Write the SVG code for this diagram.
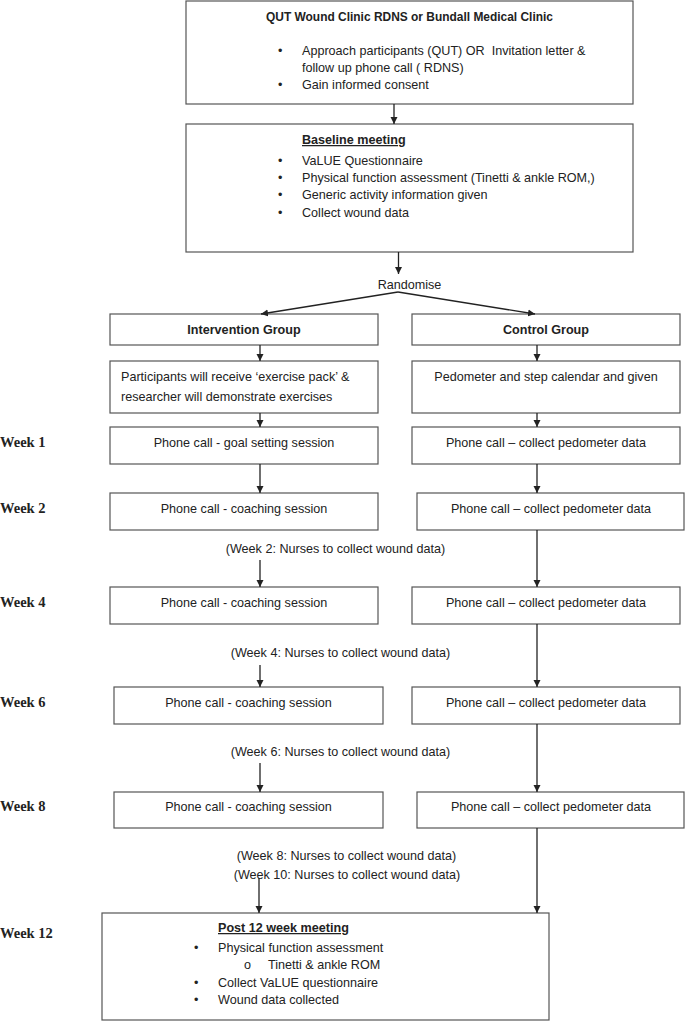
<svg xmlns="http://www.w3.org/2000/svg" width="685" height="1022" viewBox="0 0 685 1022">
<style>
.box{fill:#fff;stroke:#555;stroke-width:1.2}
.t{font-family:"Liberation Sans",Arial,sans-serif;font-size:12.6px;fill:#222}
.b{font-weight:bold}
.c{text-anchor:middle}
.wk{font-family:"Liberation Serif","Times New Roman",serif;font-size:14.5px;font-weight:bold;fill:#222}
.con{stroke:#222;stroke-width:1.3;fill:none;marker-end:url(#ah)}
</style>
<defs>
<marker id="ah" viewBox="0 0 10 10" refX="10" refY="5" markerWidth="7" markerHeight="8" markerUnits="userSpaceOnUse" orient="auto">
<path d="M0,0 L10,5 L0,10 z" fill="#222"/>
</marker>
</defs>
<rect width="685" height="1022" fill="#fff"/>

<g id="recruit">
<rect class="box" x="186" y="1" width="447" height="103"/>
<text class="t b c" x="409.5" y="21" textLength="287" lengthAdjust="spacingAndGlyphs">QUT Wound Clinic RDNS or Bundall Medical Clinic</text>
<text class="t" x="278" y="55">•</text>
<text class="t" x="302" y="55">Approach participants (QUT) OR &#160;Invitation letter &amp;</text>
<text class="t" x="302" y="72">follow up phone call ( RDNS)</text>
<text class="t" x="278" y="89">•</text>
<text class="t" x="302" y="89">Gain informed consent</text>
</g>

<g id="baseline">
<rect class="box" x="186" y="124" width="447" height="128"/>
<text class="t b" x="302" y="144" text-decoration="underline">Baseline meeting</text>
<text class="t" x="278" y="165">•</text>
<text class="t" x="302" y="165">VaLUE Questionnaire</text>
<text class="t" x="278" y="182">•</text>
<text class="t" x="302" y="182">Physical function assessment (Tinetti &amp; ankle ROM,)</text>
<text class="t" x="278" y="199">•</text>
<text class="t" x="302" y="199">Generic activity information given</text>
<text class="t" x="278" y="217">•</text>
<text class="t" x="302" y="217">Collect wound data</text>
</g>

<g id="randomise">
<text class="t c" x="409.5" y="289">Randomise</text>
</g>

<g id="intervention">
<rect class="box" x="110" y="314" width="268" height="31"/>
<text class="t b c" x="244" y="334">Intervention Group</text>
</g>
<g id="control">
<rect class="box" x="412" y="314" width="268" height="31"/>
<text class="t b c" x="546" y="334">Control Group</text>
</g>

<g id="exercise-pack">
<rect class="box" x="110" y="361" width="268" height="52"/>
<text class="t" x="121" y="381">Participants will receive ‘exercise pack’ &amp;</text>
<text class="t" x="121" y="401">researcher will demonstrate exercises</text>
</g>
<g id="pedometer">
<rect class="box" x="412" y="361" width="268" height="52"/>
<text class="t c" x="546" y="381">Pedometer and step calendar and given</text>
</g>

<g id="week1-label"><text class="wk" x="0" y="447">Week 1</text></g>
<g id="i-week1">
<rect class="box" x="110" y="427" width="268" height="37"/>
<text class="t c" x="244" y="447">Phone call - goal setting session</text>
</g>
<g id="c-week1">
<rect class="box" x="412" y="427" width="268" height="37"/>
<text class="t c" x="546" y="447">Phone call – collect pedometer data</text>
</g>

<g id="week2-label"><text class="wk" x="0" y="513">Week 2</text></g>
<g id="i-week2">
<rect class="box" x="110" y="493" width="268" height="37"/>
<text class="t c" x="244" y="513">Phone call - coaching session</text>
</g>
<g id="c-week2">
<rect class="box" x="417" y="493" width="267" height="37"/>
<text class="t c" x="551" y="513">Phone call – collect pedometer data</text>
</g>
<g id="note-week2"><text class="t c" x="335.5" y="553">(Week 2: Nurses to collect wound data)</text></g>

<g id="week4-label"><text class="wk" x="0" y="607">Week 4</text></g>
<g id="i-week4">
<rect class="box" x="110" y="587" width="268" height="37"/>
<text class="t c" x="244" y="607">Phone call - coaching session</text>
</g>
<g id="c-week4">
<rect class="box" x="412" y="587" width="268" height="37"/>
<text class="t c" x="546" y="607">Phone call – collect pedometer data</text>
</g>
<g id="note-week4"><text class="t c" x="340.5" y="657">(Week 4: Nurses to collect wound data)</text></g>

<g id="week6-label"><text class="wk" x="0" y="707">Week 6</text></g>
<g id="i-week6">
<rect class="box" x="114" y="687" width="269" height="37"/>
<text class="t c" x="248.5" y="707">Phone call - coaching session</text>
</g>
<g id="c-week6">
<rect class="box" x="412" y="687" width="268" height="37"/>
<text class="t c" x="546" y="707">Phone call – collect pedometer data</text>
</g>
<g id="note-week6"><text class="t c" x="340.5" y="756">(Week 6: Nurses to collect wound data)</text></g>

<g id="week8-label"><text class="wk" x="0" y="811">Week 8</text></g>
<g id="i-week8">
<rect class="box" x="114" y="792" width="269" height="36"/>
<text class="t c" x="248.5" y="811">Phone call - coaching session</text>
</g>
<g id="c-week8">
<rect class="box" x="417" y="792" width="267" height="36"/>
<text class="t c" x="551" y="811">Phone call – collect pedometer data</text>
</g>
<g id="note-week8"><text class="t c" x="346.5" y="860">(Week 8: Nurses to collect wound data)</text></g>
<g id="note-week10"><text class="t c" x="347" y="879">(Week 10: Nurses to collect wound data)</text></g>

<g id="week12-label"><text class="wk" x="0" y="938">Week 12</text></g>
<g id="post12">
<rect class="box" x="102" y="913" width="447" height="107"/>
<text class="t b" x="218" y="932" text-decoration="underline">Post 12 week meeting</text>
<text class="t" x="194" y="952">•</text>
<text class="t" x="218" y="952">Physical function assessment</text>
<text class="t" x="244" y="969">o</text>
<text class="t" x="268" y="969">Tinetti &amp; ankle ROM</text>
<text class="t" x="194" y="987">•</text>
<text class="t" x="218" y="987">Collect VaLUE questionnaire</text>
<text class="t" x="194" y="1004">•</text>
<text class="t" x="218" y="1004">Wound data collected</text>
</g>

<g id="connectors">
<line class="con" x1="394" y1="104" x2="394" y2="124"/>
<line class="con" x1="398.5" y1="252" x2="398.5" y2="274"/>
<polyline class="con" points="398,292 261,314"/>
<polyline class="con" points="398,292 535,314"/>
<line class="con" x1="260" y1="345" x2="260" y2="361"/>
<line class="con" x1="537" y1="345" x2="537" y2="361"/>
<line class="con" x1="260" y1="413" x2="260" y2="427"/>
<line class="con" x1="537" y1="413" x2="537" y2="427"/>
<line class="con" x1="260" y1="464" x2="260" y2="493"/>
<line class="con" x1="537" y1="464" x2="537" y2="493"/>
<line class="con" x1="260" y1="560" x2="260" y2="587"/>
<line class="con" x1="537" y1="530" x2="537" y2="587"/>
<line class="con" x1="260" y1="665" x2="260" y2="687"/>
<line class="con" x1="537" y1="624" x2="537" y2="687"/>
<line class="con" x1="260" y1="763" x2="260" y2="792"/>
<line class="con" x1="537" y1="724" x2="537" y2="792"/>
<line class="con" x1="259" y1="878" x2="259" y2="913"/>
<line class="con" x1="537" y1="828" x2="537" y2="913"/>
</g>
</svg>
